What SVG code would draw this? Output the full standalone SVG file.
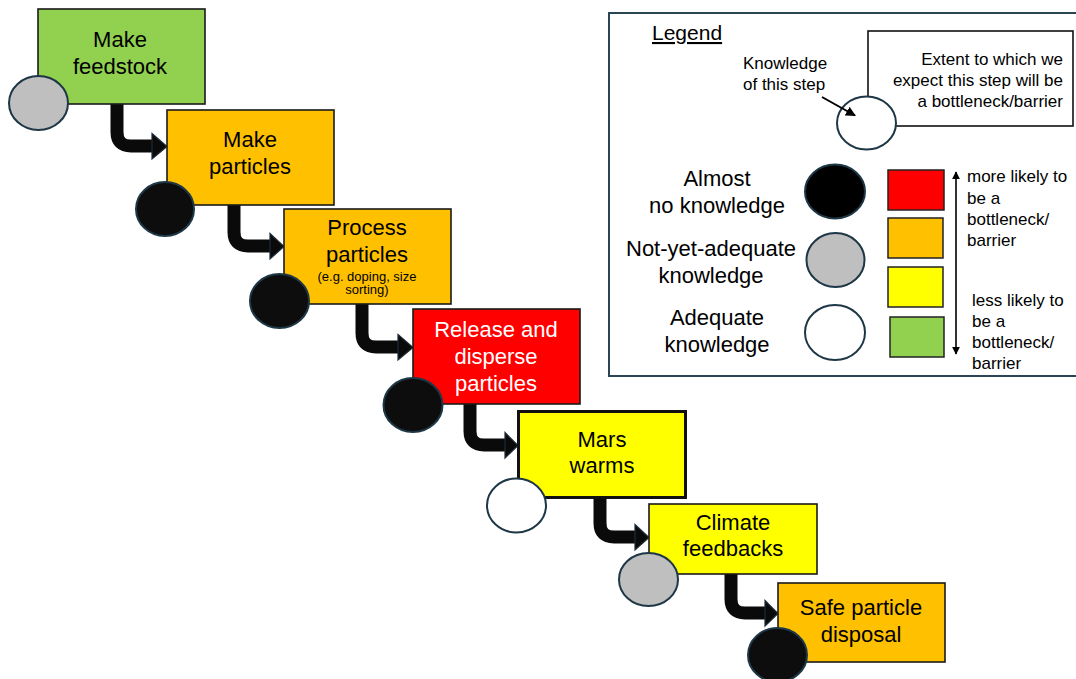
<svg xmlns="http://www.w3.org/2000/svg" width="1076" height="679" viewBox="0 0 1076 679">
  <defs>
    <style>
      .step { stroke: #1a1a1a; stroke-width: 1.6; }
      .k { stroke: #1e3746; stroke-width: 2; }
      .lbl { font-family: "Liberation Sans", Arial, sans-serif; font-size: 22px; fill: #000; text-anchor: middle; }
      .small { font-family: "Liberation Sans", Arial, sans-serif; font-size: 13px; fill: #000; text-anchor: middle; }
      .leg { font-family: "Liberation Sans", Arial, sans-serif; font-size: 17px; fill: #000; }
      .shaft { fill: none; stroke: #0a0a0a; stroke-width: 13; }
      .head { fill: #0a0a0a; stroke: #1d2b38; stroke-width: 1.2; stroke-linejoin: miter; }
    </style>
    <marker id="tip" viewBox="0 0 10 10" refX="9" refY="5" markerWidth="5" markerHeight="5" orient="auto-start-reverse">
      <path d="M0,0 L10,5 L0,10 Z" fill="#000"/>
    </marker>
  </defs>

  <rect width="1076" height="679" fill="#fff"/>

  <!-- connectors between steps -->
  <g id="connectors">
    <path class="shaft" d="M117,104 V132 Q117,146 131,146 H153"/>
    <polygon class="head" points="152,133.5 167,146.5 152,159"/>
    <path class="shaft" d="M234,205 V232 Q234,246 248,246 H271"/>
    <polygon class="head" points="270,233.5 284,246.5 270,259"/>
    <path class="shaft" d="M362,304 V333 Q362,347 376,347 H399"/>
    <polygon class="head" points="398,334.5 413,347.5 398,360"/>
    <path class="shaft" d="M470,404 V431 Q470,445 484,445 H506"/>
    <polygon class="head" points="505,432.5 518,445.5 505,458"/>
    <path class="shaft" d="M600,498 V523 Q600,537 614,537 H636"/>
    <polygon class="head" points="635,524.5 649,537.5 635,550"/>
    <path class="shaft" d="M731,574 V599 Q731,613 745,613 H766"/>
    <polygon class="head" points="765,600.5 778,613.5 765,626"/>
  </g>

  <!-- process steps -->
  <g id="step-feedstock">
    <rect class="step" x="38" y="9" width="167" height="95" fill="#92D050"/>
    <ellipse class="k" cx="38.5" cy="103" rx="29.5" ry="27" fill="#BFBFBF"/>
    <text class="lbl" x="120" y="47">Make</text>
    <text class="lbl" x="120" y="74">feedstock</text>
  </g>

  <g id="step-make-particles">
    <rect class="step" x="167" y="110" width="167" height="95" fill="#FFC000"/>
    <ellipse class="k" cx="165" cy="209" rx="29" ry="27" fill="#0d0d0d"/>
    <text class="lbl" x="250" y="147">Make</text>
    <text class="lbl" x="250" y="174">particles</text>
  </g>

  <g id="step-process-particles">
    <rect class="step" x="284" y="209" width="167" height="95" fill="#FFC000"/>
    <ellipse class="k" cx="279.5" cy="301" rx="29.5" ry="27" fill="#0d0d0d"/>
    <text class="lbl" x="367" y="235">Process</text>
    <text class="lbl" x="367" y="262">particles</text>
    <text class="small" x="367" y="281">(e.g. doping, size</text>
    <text class="small" x="367" y="294">sorting)</text>
  </g>

  <g id="step-release">
    <rect class="step" x="413" y="309" width="167" height="95" fill="#FF0000"/>
    <ellipse class="k" cx="413" cy="405" rx="29.5" ry="27" fill="#0d0d0d"/>
    <text class="lbl" x="496" y="337" style="fill:#fff">Release and</text>
    <text class="lbl" x="496" y="364" style="fill:#fff">disperse</text>
    <text class="lbl" x="496" y="391" style="fill:#fff">particles</text>
  </g>

  <g id="step-mars-warms">
    <rect x="518.5" y="411.5" width="167" height="86" fill="#FFFF00" stroke="#111" stroke-width="3"/>
    <ellipse class="k" cx="516.5" cy="505.5" rx="29.5" ry="27" fill="#fff"/>
    <text class="lbl" x="602" y="447">Mars</text>
    <text class="lbl" x="602" y="473">warms</text>
  </g>

  <g id="step-climate-feedbacks">
    <rect class="step" x="649" y="504" width="168" height="70" fill="#FFFF00"/>
    <ellipse class="k" cx="648.5" cy="579.5" rx="29.5" ry="26.5" fill="#BFBFBF"/>
    <text class="lbl" x="733" y="530">Climate</text>
    <text class="lbl" x="733" y="556">feedbacks</text>
  </g>

  <g id="step-disposal">
    <rect class="step" x="778" y="583" width="167" height="79" fill="#FFC000"/>
    <ellipse class="k" cx="777.5" cy="655" rx="29.5" ry="27" fill="#0d0d0d"/>
    <text class="lbl" x="861" y="615">Safe particle</text>
    <text class="lbl" x="861" y="642">disposal</text>
  </g>

  <!-- legend -->
  <g id="legend">
    <rect x="609" y="13" width="480" height="363" fill="#fff" stroke="#2b4554" stroke-width="2"/>
    <text class="lbl" x="652" y="40" style="text-anchor:start; font-size:21px" text-decoration="underline">Legend</text>

    <rect x="868" y="31" width="205" height="95" fill="#fff" stroke="#111" stroke-width="1.6"/>
    <text class="leg" x="1063" y="65" text-anchor="end">Extent to which we</text>
    <text class="leg" x="1063" y="86" text-anchor="end">expect this step will be</text>
    <text class="leg" x="1063" y="107" text-anchor="end">a bottleneck/barrier</text>

    <text class="leg" x="743" y="69">Knowledge</text>
    <text class="leg" x="743" y="90">of this step</text>
    <ellipse class="k" cx="866.5" cy="123" rx="29.5" ry="26.5" fill="#fff"/>
    <line x1="822" y1="97" x2="855" y2="115.5" stroke="#000" stroke-width="2" marker-end="url(#tip)"/>

    <text class="lbl" x="717" y="186">Almost</text>
    <text class="lbl" x="717" y="213">no knowledge</text>
    <ellipse class="k" cx="835" cy="191.5" rx="30" ry="27" fill="#000"/>

    <text class="lbl" x="711" y="256">Not-yet-adequate</text>
    <text class="lbl" x="711" y="283">knowledge</text>
    <ellipse class="k" cx="835.5" cy="260" rx="29" ry="27" fill="#BFBFBF"/>

    <text class="lbl" x="717" y="325">Adequate</text>
    <text class="lbl" x="717" y="352">knowledge</text>
    <ellipse class="k" cx="835" cy="332.5" rx="30" ry="27.5" fill="#fff"/>

    <rect x="888" y="170" width="56" height="40" fill="#FF0000" stroke="#222" stroke-width="1.5"/>
    <rect x="888" y="218" width="55" height="40" fill="#FFC000" stroke="#222" stroke-width="1.5"/>
    <rect x="888" y="267" width="55" height="40" fill="#FFFF00" stroke="#222" stroke-width="1.5"/>
    <rect x="890" y="317" width="54" height="40" fill="#92D050" stroke="#222" stroke-width="1.5"/>

    <line x1="956" y1="172" x2="956" y2="354" stroke="#000" stroke-width="1.6" marker-start="url(#tip)" marker-end="url(#tip)"/>

    <text class="leg" x="967" y="182">more likely to</text>
    <text class="leg" x="967" y="204">be a</text>
    <text class="leg" x="967" y="225">bottleneck/</text>
    <text class="leg" x="967" y="246">barrier</text>

    <text class="leg" x="972" y="306">less likely to</text>
    <text class="leg" x="972" y="327">be a</text>
    <text class="leg" x="972" y="348">bottleneck/</text>
    <text class="leg" x="972" y="369">barrier</text>
  </g>
</svg>
